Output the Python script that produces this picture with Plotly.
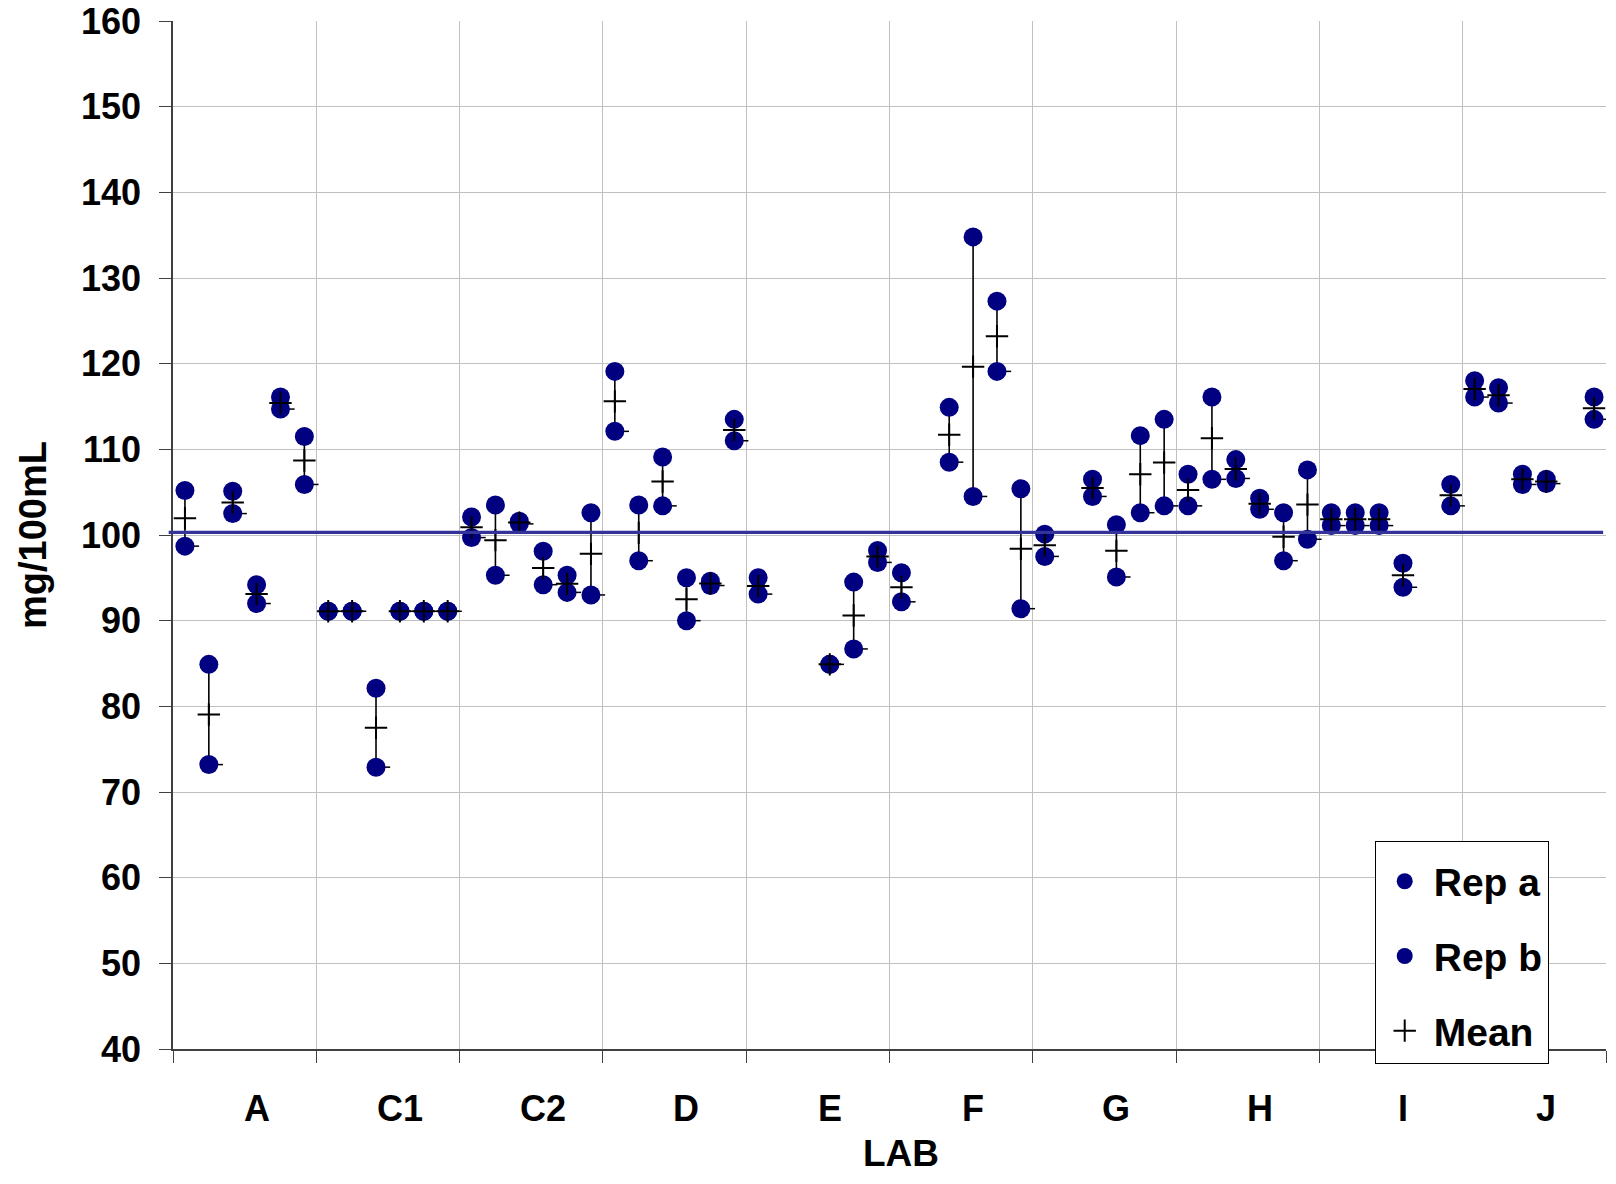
import plotly.graph_objects as go

# ---------------- data ----------------
labs = ["A", "C1", "C2", "D", "E", "F", "G", "H", "I", "J"]
samples_per_lab = 6

# replicate a (upper value) and replicate b (lower value), 6 samples per lab, None = missing
rep_a = [
    105.2, 84.9, 105.1, 94.2, 116.1, 111.5,      # A
    91.1, 91.1, 82.1, 91.1, 91.1, 91.1,          # C1
    102.1, 103.5, 101.6, 98.1, 95.3, 102.6,      # C2
    119.1, 103.5, 109.1, 95.0, 94.6, 113.5,      # D
    95.0, None, None, 84.9, 94.5, 98.2,          # E
    95.6, None, 114.9, 134.8, 127.3, 105.4,      # F
    100.1, None, 106.5, 101.2, 111.6, 113.5,     # G
    107.1, 116.1, 108.8, 104.3, 102.6, 107.6,    # H
    102.6, 102.6, 102.6, 96.7, None, 105.9,      # I
    118.0, 117.2, 107.1, 106.5, None, 116.1,     # J
]
rep_b = [
    98.7, 73.2, 102.5, 92.0, 114.7, 105.9,       # A
    91.1, 91.1, 72.9, 91.1, 91.1, 91.1,          # C1
    99.7, 95.3, 101.3, 94.2, 93.3, 93.0,         # C2
    112.1, 97.0, 103.4, 90.0, 94.1, 111.0,       # D
    93.1, None, None, 84.9, 86.7, 96.8,          # E
    92.2, None, 108.5, 104.5, 119.1, 91.4,       # F
    97.5, None, 104.5, 95.1, 102.6, 103.4,       # G
    103.4, 106.5, 106.6, 103.0, 97.0, 99.5,      # H
    101.1, 101.1, 101.1, 93.9, None, 103.4,      # I
    116.1, 115.4, 105.9, 106.0, None, 113.5,     # J
]
ref_value = 100.3

y_range = [40, 160]
y_dtick = 10

# ---------------- derived ----------------
n = len(rep_a)
xs = list(range(n))
mean = [None if a is None else (a + b) / 2 for a, b in zip(rep_a, rep_b)]
low = [None if a is None else min(a, b) for a, b in zip(rep_a, rep_b)]

hl_x, hl_y = [], []
for i, (a, b) in enumerate(zip(rep_a, rep_b)):
    if a is None:
        continue
    hl_x += [i, i, None]
    hl_y += [a, b, None]

FONT = "Liberation Sans, Arial, sans-serif"
NAVY = "#000080"

fig = go.Figure()

# high-low lines
fig.add_trace(go.Scatter(x=hl_x, y=hl_y, mode="lines",
                         line=dict(color="black", width=1.6),
                         showlegend=False, hoverinfo="skip"))
# small close tick to the right of the low point
fig.add_trace(go.Scatter(x=[x + 0.3 for x in xs], y=low, mode="markers",
                         marker=dict(symbol="line-ew", size=10, color="black",
                                     line=dict(color="black", width=1.5)),
                         showlegend=False, hoverinfo="skip"))
fig.add_trace(go.Scatter(x=xs, y=rep_a, mode="markers", name="Rep a",
                         legendgroup="a",
                         marker=dict(symbol="circle", size=19, color=NAVY)))
fig.add_trace(go.Scatter(x=xs, y=rep_b, mode="markers", name="Rep b",
                         legendgroup="b",
                         marker=dict(symbol="circle", size=19, color=NAVY)))
fig.add_trace(go.Scatter(x=xs, y=mean, mode="markers", name="Mean",
                         legendgroup="m",
                         marker=dict(symbol="cross-thin", size=16, color="black",
                                     line=dict(color="black", width=2))))

# reference line
fig.add_shape(type="line", xref="paper", yref="y",
              x0=-0.003, x1=0.998, y0=ref_value, y1=ref_value,
              line=dict(color="#333399", width=3.3), layer="above")

# lab labels
for i, lab in enumerate(labs):
    fig.add_annotation(x=i * samples_per_lab + 3, y=0, xref="x", yref="paper",
                       text=lab, showarrow=False, yanchor="middle", yshift=-59,
                       font=dict(family=FONT, size=36, color="black", weight="bold"))
fig.add_annotation(x=30, y=0, xref="x", yref="paper", text="LAB", showarrow=False,
                   yanchor="middle", yshift=-104,
                   font=dict(family=FONT, size=37, color="black", weight="bold"))
fig.add_annotation(x=0, y=0.5, xref="paper", yref="paper", text="mg/100mL",
                   showarrow=False, textangle=-90, xanchor="center", yanchor="middle",
                   xshift=-140, font=dict(family=FONT, size=38, color="black", weight="bold"))

boundaries = [k * samples_per_lab - 0.5 for k in range(len(labs) + 1)]

fig.update_layout(
    width=1616, height=1184,
    margin=dict(l=173, r=10, t=21, b=135),
    paper_bgcolor="white", plot_bgcolor="white",
    font=dict(family=FONT, color="black"),
    showlegend=True,
    legend=dict(x=0.8386, y=0.2027, xanchor="left", yanchor="top",
                bgcolor="white", bordercolor="black", borderwidth=1,
                font=dict(family=FONT, size=39, color="black", weight="bold"),
                title=dict(text="\u00a0", font=dict(family=FONT, size=6)),
                traceorder="grouped", tracegroupgap=21, itemwidth=48,
                entrywidth=135, entrywidthmode="pixels"),
    xaxis=dict(range=[-0.5, n - 0.5], tickvals=boundaries,
               ticktext=[""] * len(boundaries), automargin=False,
               showgrid=True, gridcolor="#C0C0C0", gridwidth=1.3,
               ticks="outside", ticklen=12, tickcolor="#404040", tickwidth=1.3,
               showline=True, linecolor="#404040", linewidth=1.5, zeroline=False),
    yaxis=dict(range=y_range, dtick=y_dtick, tick0=40, automargin=False,
               showgrid=True, gridcolor="#C0C0C0", gridwidth=1.3,
               ticks="outside", ticklen=12, tickcolor="#404040", tickwidth=1.3,
               showline=True, linecolor="#404040", linewidth=1.5, zeroline=False,
               ticklabelstandoff=11,
               tickfont=dict(family=FONT, size=36, color="black", weight="bold")),
)

fig.write_html("out.html")
